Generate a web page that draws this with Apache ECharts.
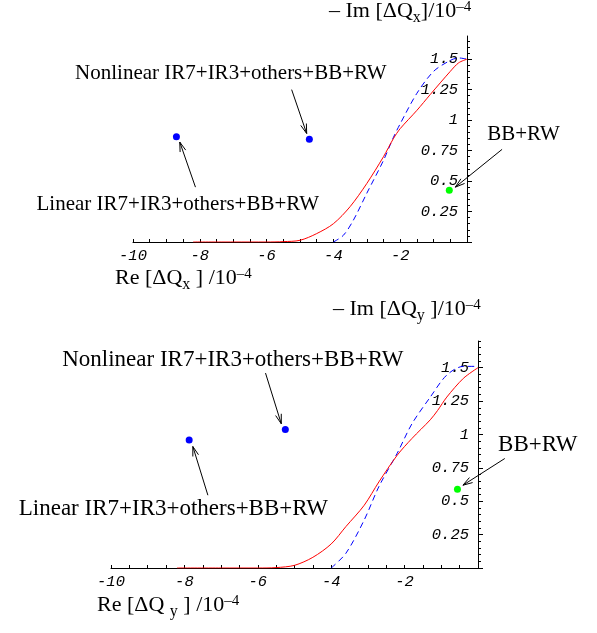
<!DOCTYPE html>
<html><head><meta charset="utf-8">
<script src="https://cdn.jsdelivr.net/npm/echarts@6/dist/echarts.min.js"></script>
<style>html,body{margin:0;padding:0;background:#fff}#c{width:597px;height:633px}</style>
</head><body><div id="c"></div>
<script>
// ---- tick labels ----
const X_TICKS = [-10, -8, -6, -4, -2];
const Y_TICKS = [0.25, 0.5, 0.75, 1, 1.25, 1.5];

// ---- panel 1 (x plane) ----
const redX1 = [-8.2, -7, -6, -5.5, -5, -4.5, -4, -3.5, -3, -2.5, -2.2, -2, -1.5, -1.1, -0.5, -0.25, 0];
const redY1 = [0, 0, 0, 0.003, 0.014, 0.069, 0.15, 0.29, 0.48, 0.70, 0.85, 0.93, 1.08, 1.21, 1.40, 1.47, 1.5];
const blueX1 = [-4, -3.7, -3.4, -3, -2.5, -2.2, -2, -1.5, -1, -0.5, -0.25, 0];
const blueY1 = [0, 0.055, 0.18, 0.40, 0.67, 0.86, 0.97, 1.22, 1.40, 1.49, 1.51, 1.5];
const linear1 = [-8.7, 0.863];
const nonlinear1 = [-4.72, 0.842];
const bbrw1 = [-0.53, 0.425];

// ---- panel 2 (y plane) ----
const redX2 = [-8.2, -7, -6, -5.5, -5, -4.5, -4, -3.6, -3.1, -2.7, -2.2, -1.8, -1.3, -1.1, -0.85, -0.4, 0];
const redY2 = [0, 0, 0, 0.003, 0.02, 0.08, 0.18, 0.31, 0.47, 0.645, 0.845, 0.97, 1.11, 1.18, 1.28, 1.42, 1.5];
const blueX2 = [-4, -3.6, -3.1, -2.7, -2.2, -1.8, -1.3, -0.85, -0.4, 0];
const blueY2 = [0, 0.11, 0.36, 0.61, 0.86, 1.08, 1.28, 1.445, 1.51, 1.51];
const linear2 = [-7.87, 0.958];
const nonlinear2 = [-5.25, 1.038];
const bbrw2 = [-0.56, 0.59];

// ---- annotation texts ----
const LBL_NONLIN = 'Nonlinear IR7+IR3+others+BB+RW';
const LBL_LIN = 'Linear IR7+IR3+others+BB+RW';
const LBL_BB = 'BB+RW';

const zip = (a, b) => a.map((v, i) => [v, b[i]]);
const minorVals = [];
for (let i = 0; i <= 34; i++) minorVals.push(+(i * 0.05).toFixed(2));
const xMinor = [];
for (let i = 0; i <= 20; i++) xMinor.push(-10 + i * 0.5);

const monoLabel = { fontFamily: 'Liberation Mono', fontStyle: 'italic', fontSize: 15.5, color: '#000' };

function xAxisFor(gi) {
  return {
    gridIndex: gi, type: 'value', min: -10, max: 0, interval: 2,
    axisLine: { show: true, onZero: false, lineStyle: { color: '#000', width: 1 } },
    axisTick: { show: true, inside: true, length: 3, customValues: xMinor, lineStyle: { color: '#000' } },
    axisLabel: Object.assign({ margin: 6, customValues: X_TICKS, formatter: v => String(v) }, monoLabel),
    splitLine: { show: false }
  };
}
function yAxisFor(gi, max) {
  return [{
    gridIndex: gi, type: 'value', min: 0, max: max, position: 'right',
    axisLine: { show: true, onZero: false, lineStyle: { color: '#000', width: 1 } },
    axisTick: { show: true, inside: false, length: 5, customValues: [0].concat(Y_TICKS), lineStyle: { color: '#000' } },
    axisLabel: Object.assign({ inside: true, margin: 9, customValues: Y_TICKS, formatter: v => String(v) }, monoLabel),
    splitLine: { show: false }
  }, {
    gridIndex: gi, type: 'value', min: 0, max: max, position: 'right',
    axisLine: { show: false },
    axisTick: { show: true, inside: false, length: 3, customValues: minorVals.filter(v => v <= max), lineStyle: { color: '#000' } },
    axisLabel: { show: false },
    splitLine: { show: false }
  }];
}
function seriesFor(gi, rx, ry, bx, by, lin, nl, bb) {
  return [
    { type: 'line', xAxisIndex: gi, yAxisIndex: gi * 2, data: zip(rx, ry), smooth: 0.3,
      showSymbol: false, lineStyle: { color: '#ff0000', width: 1 }, z: 3 },
    { type: 'line', xAxisIndex: gi, yAxisIndex: gi * 2, data: zip(bx, by), smooth: 0.3,
      showSymbol: false, lineStyle: { color: '#0000ff', width: 1, type: [6, 4] }, z: 2 },
    { type: 'scatter', xAxisIndex: gi, yAxisIndex: gi * 2, data: [lin, nl], symbolSize: 7,
      itemStyle: { color: '#0000ff', opacity: 1 }, clip: false, z: 4 },
    { type: 'scatter', xAxisIndex: gi, yAxisIndex: gi * 2, data: [bb], symbolSize: 7,
      itemStyle: { color: '#00ff00', opacity: 1 }, clip: false, z: 4 }
  ];
}

const chart = echarts.init(document.getElementById('c'), null, { renderer: 'canvas' });
chart.setOption({
  backgroundColor: '#fff',
  animation: false,
  grid: [
    { left: 133, top: 36, width: 334, height: 206 },
    { left: 111, top: 341, width: 367, height: 227 }
  ],
  xAxis: [xAxisFor(0), xAxisFor(1)],
  yAxis: yAxisFor(0, 1.69).concat(yAxisFor(1, 1.7)),
  series: seriesFor(0, redX1, redY1, blueX1, blueY1, linear1, nonlinear1, bbrw1)
    .concat(seriesFor(1, redX2, redY2, blueX2, blueY2, linear2, nonlinear2, bbrw2))
});

// ---- annotations placed in data coordinates (layout) ----
const ANN = [
  { gi: 0, size: 21, texts: [[LBL_NONLIN, [-7.07, 1.38]], [LBL_LIN, [-8.66, 0.31]], [LBL_BB, [1.69, 0.88]]],
    arrows: [[[-5.25, 1.25], [-4.8, 0.89]], [[-8.13, 0.45], [-8.6, 0.82]], [[1.05, 0.76], [-0.35, 0.45]]] },
  { gi: 1, size: 23, texts: [[LBL_NONLIN, [-6.68, 1.56]], [LBL_LIN, [-8.3, 0.44]], [LBL_BB, [1.63, 0.92]]],
    arrows: [[[-5.79, 1.46], [-5.36, 1.08]], [[-7.36, 0.545], [-7.77, 0.91]], [[0.73, 0.82], [-0.41, 0.62]]] }
];
const g = [];
ANN.forEach(a => {
  a.texts.forEach(t => {
    const p = chart.convertToPixel({ gridIndex: a.gi }, t[1]);
    g.push({ type: 'text', x: p[0], y: p[1], style: { text: t[0], font: a.size + 'px "Liberation Serif"', fill: '#000',
      textAlign: 'center', textVerticalAlign: 'middle', align: 'center', verticalAlign: 'middle' } });
  });
  a.arrows.forEach(ar => {
    const p1 = chart.convertToPixel({ gridIndex: a.gi }, ar[0]);
    const p2 = chart.convertToPixel({ gridIndex: a.gi }, ar[1]);
    const ang = Math.atan2(p2[1] - p1[1], p2[0] - p1[0]);
    const L = 10, s = 0.3;
    const h1 = [p2[0] - L * Math.cos(ang - s), p2[1] - L * Math.sin(ang - s)];
    const h2 = [p2[0] - L * Math.cos(ang + s), p2[1] - L * Math.sin(ang + s)];
    g.push({ type: 'line', shape: { x1: p1[0], y1: p1[1], x2: p2[0], y2: p2[1] }, style: { stroke: '#000', lineWidth: 1 } });
    g.push({ type: 'polyline', shape: { points: [h1, p2, h2] }, style: { stroke: '#000', lineWidth: 1, fill: null } });
  });
});

// axis names
const serif = '"Liberation Serif"';
const rich = {
  m: { fontFamily: serif, fontSize: 22, color: '#000', verticalAlign: 'top', lineHeight: 26 },
  sub: { fontFamily: serif, fontSize: 16, color: '#000', verticalAlign: 'bottom', lineHeight: 19 },
  sup: { fontFamily: serif, fontSize: 15, color: '#000', verticalAlign: 'top', lineHeight: 8 }
};
function name(text, x, y) {
  return { type: 'text', x: x, y: y, style: { text: text, rich: rich, textAlign: 'left', textVerticalAlign: 'middle', align: 'left', verticalAlign: 'middle' } };
}
g.push(name('{m|– Im [ΔQ}{sub|x}{m|]/10}{sup|–4}', 329, 13));
g.push(name('{m|Re [ΔQ}{sub|x}{m| ] /10}{sup|–4}', 115, 280));
g.push(name('{m|– Im [ΔQ}{sub|y}{m| ]/10}{sup|–4}', 333, 311));
g.push(name('{m|Re [ΔQ }{sub|y}{m| ] /10}{sup|–4}', 97, 607));

chart.setOption({ graphic: g });
</script>
</body></html>
